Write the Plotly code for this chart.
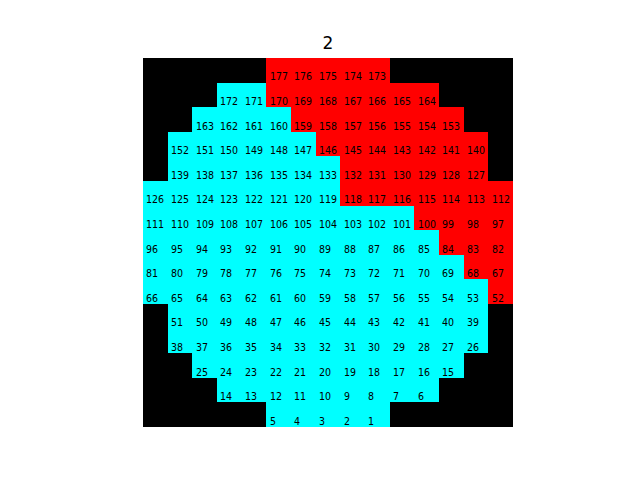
import plotly.graph_objects as go

# Cell classes per row (0 = outside/black, 1 = cyan, 2 = red)
class_rows = [
    "000002222200000",
    "000112222222000",
    "001111222222200",
    "011111122222220",
    "011111112222220",
    "111111112222222",
    "111111111112222",
    "111111111111222",
    "111111111111122",
    "111111111111112",
    "011111111111110",
    "011111111111110",
    "001111111111100",
    "000111111111000",
    "000001111100000",
]

# Cell labels per row, left to right over non-black cells
label_rows = [
    [177, 176, 175, 174, 173],
    [172, 171, 170, 169, 168, 167, 166, 165, 164],
    [163, 162, 161, 160, 159, 158, 157, 156, 155, 154, 153],
    [152, 151, 150, 149, 148, 147, 146, 145, 144, 143, 142, 141, 140],
    [139, 138, 137, 136, 135, 134, 133, 132, 131, 130, 129, 128, 127],
    [126, 125, 124, 123, 122, 121, 120, 119, 118, 117, 116, 115, 114, 113, 112],
    [111, 110, 109, 108, 107, 106, 105, 104, 103, 102, 101, 100, 99, 98, 97],
    [96, 95, 94, 93, 92, 91, 90, 89, 88, 87, 86, 85, 84, 83, 82],
    [81, 80, 79, 78, 77, 76, 75, 74, 73, 72, 71, 70, 69, 68, 67],
    [66, 65, 64, 63, 62, 61, 60, 59, 58, 57, 56, 55, 54, 53, 52],
    [51, 50, 49, 48, 47, 46, 45, 44, 43, 42, 41, 40, 39],
    [38, 37, 36, 35, 34, 33, 32, 31, 30, 29, 28, 27, 26],
    [25, 24, 23, 22, 21, 20, 19, 18, 17, 16, 15],
    [14, 13, 12, 11, 10, 9, 8, 7, 6],
    [5, 4, 3, 2, 1],
]

title_text = "2"

z = [[int(c) for c in row] for row in class_rows]
n = len(z)

fig = go.Figure()
fig.add_trace(go.Heatmap(
    z=z,
    x=list(range(n)),
    y=list(range(n)),
    colorscale=[[0, "#000000"], [0.5, "#00ffff"], [1, "#ff0000"]],
    zmin=0, zmax=2,
    showscale=False,
    hoverinfo="skip",
))

annotations = []
for i, row in enumerate(z):
    cols = [j for j, v in enumerate(row) if v != 0]
    for j, lab in zip(cols, label_rows[i]):
        annotations.append(dict(
            x=j - 0.44, y=i + 0.25, xref="x", yref="y",
            text=str(lab), showarrow=False,
            xanchor="left", yanchor="middle",
            font=dict(family="Liberation Sans Narrow, DejaVu Sans Condensed, sans-serif",
                      size=10.5, color="#000000"),
        ))

fig.update_layout(
    width=640, height=480,
    margin=dict(l=143, r=127, t=58, b=53),
    paper_bgcolor="white", plot_bgcolor="white",
    title=dict(text=title_text, x=(143 + 513) / 2 / 640, xanchor="center",
               y=1 - 43 / 480, yanchor="middle",
               font=dict(family="DejaVu Sans", size=17, color="#000000")),
    annotations=annotations,
    xaxis=dict(range=[-0.5, n - 0.5], visible=False, fixedrange=True),
    yaxis=dict(range=[n - 0.5, -0.5], visible=False, fixedrange=True),
)

fig.write_html("out.html")
